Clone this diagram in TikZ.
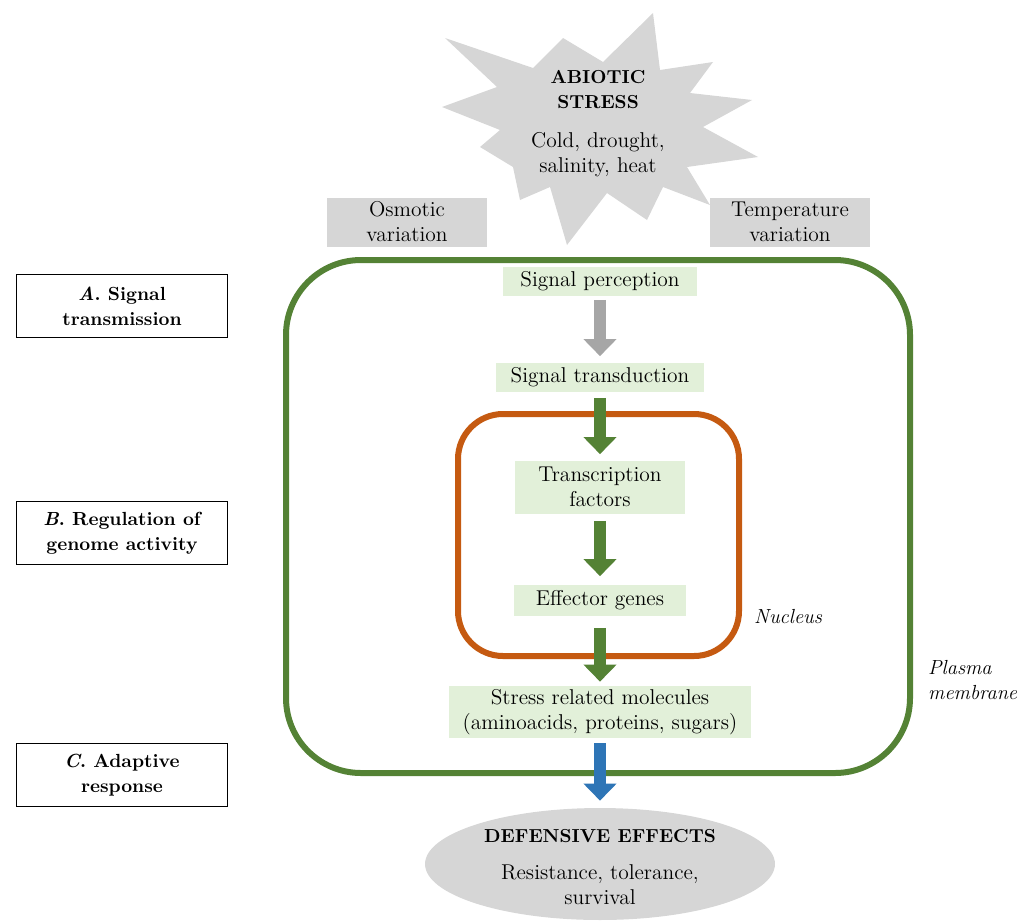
\documentclass[tikz,border=0pt]{standalone}
\usepackage{amsmath}
\usepackage{tikz}
\usetikzlibrary{arrows.meta, shapes.geometric, positioning, calc}

\definecolor{membgreen}{HTML}{548235}
\definecolor{nucorange}{HTML}{C55A11}
\definecolor{outblue}{HTML}{2E75B6}
\definecolor{lightgreen}{HTML}{E2F0D9}
\definecolor{boxgray}{HTML}{D6D6D6}
\definecolor{arrowgray}{HTML}{A6A6A6}

\newcommand{\boldhead}[1]{{\fontsize{10.7}{14.2}\selectfont\bfseries #1}}

\tikzset{
    txt/.style={font=\fontsize{12.2}{14.2}\selectfont, align=center},
    graybox/.style={txt, fill=boxgray, inner sep=0pt},
    greenbox/.style={txt, fill=lightgreen, inner sep=0pt},
    sidetxt/.style={anchor=west, align=left, font=\fontsize{11.6}{14.2}\selectfont\itshape},
    labelbox/.style={draw=black, line width=0.8pt, fill=white, inner sep=0pt, align=center,
        minimum width=4.22cm, minimum height=1.26cm, font=\fontsize{10.8}{14.2}\selectfont\bfseries},
    blockarrow/.style={line width=0.24cm, -{Triangle[width=0.64cm, length=0.34cm]}},
    membrane/.style={line width=0.12cm, rounded corners=1.5cm},
}

\begin{document}
\begin{tikzpicture}[x=0.02cm, y=-0.02cm]
    \useasboundingbox (0,0) rectangle (1024,920);

    % abiotic stress star
    \fill[boxgray] (445,38) -- (533,68) -- (563,38) -- (603,62) -- (653,13) -- (660,70)
        -- (713,62) -- (690,93) -- (752,100) -- (703,127) -- (758,157) -- (687,167)
        -- (710,205) -- (663,187) -- (647,220) -- (607,193) -- (567,245) -- (550,187)
        -- (520,200) -- (513,167) -- (480,147) -- (500,130) -- (442,107) -- (497,87) -- cycle;
    \node[txt] (stress) at (598,124) {\boldhead{ABIOTIC}\\\boldhead{STRESS}\\[8pt]Cold, drought,\\salinity, heat};

    \node[graybox, minimum width=3.22cm, minimum height=0.98cm] (osm) at (407,222) {Osmotic\\variation};
    \node[graybox, minimum width=3.2cm, minimum height=0.98cm] (temp) at (790,222) {Temperature\\variation};

    % membranes
    \draw[membrane, membgreen] (286,260) rectangle (910,773);
    \draw[membrane, nucorange, rounded corners=0.9cm] (458,414) rectangle (739,656);

    % pathway
    \node[greenbox, minimum width=3.9cm, minimum height=0.58cm] (perc) at (600,281) {Signal perception};
    \node[greenbox, minimum width=4.16cm, minimum height=0.58cm] (trans) at (600,377) {Signal transduction};
    \node[greenbox, minimum width=3.42cm, minimum height=1.06cm] (tf) at (600,487) {Transcription\\factors};
    \node[greenbox, minimum width=3.44cm, minimum height=0.62cm] (eff) at (600,600) {Effector genes};
    \node[greenbox, minimum width=6.06cm, minimum height=1.04cm] (mol) at (600,712) {Stress related molecules\\(aminoacids, proteins, sugars)};

    \node[ellipse, fill=boxgray, minimum width=7cm, minimum height=2.24cm] (def) at (600,864) {};
    \node[txt] (deftxt) at (600,867) {\boldhead{DEFENSIVE EFFECTS}\\[7pt]Resistance, tolerance,\\survival};

    \draw[blockarrow, arrowgray, shorten <=0.08cm, shorten >=0.12cm] (perc) -- (trans);
    \draw[blockarrow, membgreen, shorten <=0.12cm, shorten >=0.12cm] (trans) -- (tf);
    \draw[blockarrow, membgreen, shorten <=0.14cm, shorten >=0.16cm] (tf) -- (eff);
    \draw[blockarrow, membgreen, shorten <=0.24cm, shorten >=0.08cm] (eff) -- (mol);
    \draw[blockarrow, outblue, shorten <=0.1cm, shorten >=0.14cm] (mol.south) -- (def.north);

    % side labels
    \node[sidetxt] (nuc) at (748,617) {Nucleus};
    \node[sidetxt] (plasma) at (922,680) {Plasma\\membrane};

    \node[labelbox] (lblA) at (122,306) {\textit{A}. Signal\\transmission};
    \node[labelbox] (lblB) at (122,533) {\textit{B}. Regulation of\\genome activity};
    \node[labelbox] (lblC) at (122,775) {\textit{C}. Adaptive\\response};
\end{tikzpicture}
\end{document}
